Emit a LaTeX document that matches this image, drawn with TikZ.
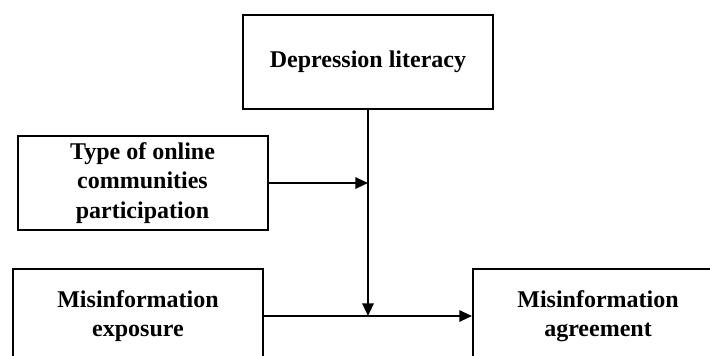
\documentclass[tikz,border=0pt]{standalone}
\usepackage{fontspec}
\setmainfont{Liberation Serif}
\usetikzlibrary{arrows.meta}

\begin{document}
\begin{tikzpicture}[x=0.75pt,y=-0.75pt,
        varbox/.style={draw=black,line width=1.5pt,rectangle,minimum width=187.5pt,minimum height=70.5pt,
            align=center,inner sep=0pt,font=\fontsize{18}{22}\selectfont\bfseries},
        link/.style={line width=1.5pt,-{Triangle[length=9.5pt,width=8.5pt]}}]
        \clip (0,0) rectangle (710,355);
        \node[varbox] (lit) at (368,61.5) {Depression literacy};
        \node[varbox] (type) at (142.5,183) {Type of online\\communities\\participation};
        \node[varbox] (expo) at (138,316) {Misinformation\\exposure};
        \node[varbox] (agree) at (598,316) {Misinformation\\agreement};
        \coordinate (meet) at (lit.south |- expo.east);
        \draw[link] (expo.east) -- (agree.west);
        \draw[link] (lit.south) -- (meet);
        \draw[link] (type.east) -- (type.east -| lit.south);
    \end{tikzpicture}
\end{document}
